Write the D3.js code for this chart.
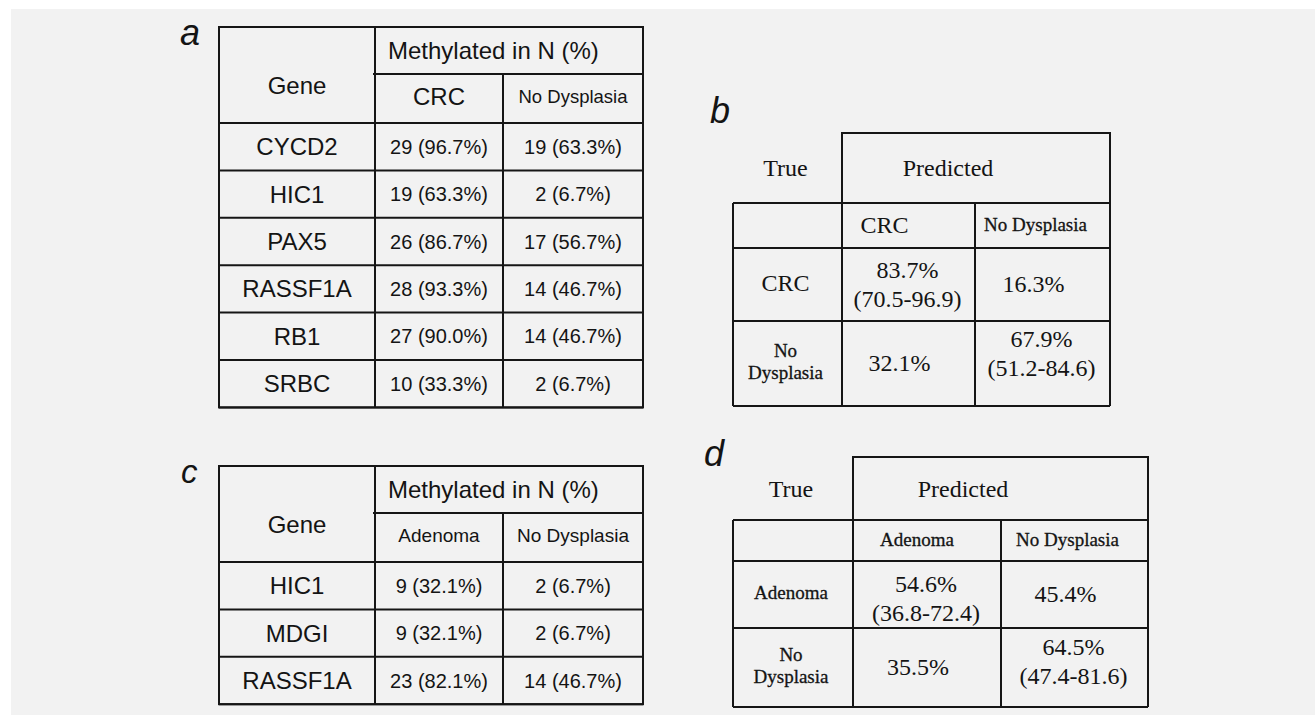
<!DOCTYPE html>
<html lang="en">
<head>
    <meta charset="UTF-8">
    <script src="https://cdn.jsdelivr.net/npm/d3@7"></script>
    <title>Methylation tables</title>
    <style>
        body {
            margin: 0;
            background: #fff;
        }

        .sans {
            font-family: 'Liberation Sans', Arial, sans-serif;
            fill: #141414;
        }

        .serif {
            font-family: 'Liberation Serif', 'Times New Roman', serif;
            fill: #141414;
        }

        /* the small serif labels look heavier in the scan */
        .heavy {
            stroke: #141414;
            stroke-width: 0.3;
        }

        .grid {
            stroke: #161616;
            stroke-width: 2;
            fill: none;
        }
    </style>
</head>

<body>
<svg id="fig"></svg>

<script>
    // Panel a - genes methylated in CRC vs no dysplasia
    const genesA = ["CYCD2", "HIC1", "PAX5", "RASSF1A", "RB1", "SRBC"];
    const crcCountA = [29, 19, 26, 28, 27, 10];
    const crcPctA = [96.7, 63.3, 86.7, 93.3, 90.0, 33.3];
    const noDysCountA = [19, 2, 17, 14, 14, 2];
    const noDysPctA = [63.3, 6.7, 56.7, 46.7, 46.7, 6.7];

    // Panel c - genes methylated in adenoma vs no dysplasia
    const genesC = ["HIC1", "MDGI", "RASSF1A"];
    const adenomaCountC = [9, 9, 23];
    const adenomaPctC = [32.1, 32.1, 82.1];
    const noDysCountC = [2, 2, 14];
    const noDysPctC = [6.7, 6.7, 46.7];

    // Panel b - classification CRC vs no dysplasia (rows = true, cols = predicted)
    const classesB = ["CRC", "No Dysplasia"];
    const predB = [[83.7, 16.3], [32.1, 67.9]];
    const ciB = [[[70.5, 96.9], null], [null, [51.2, 84.6]]];

    // Panel d - classification adenoma vs no dysplasia
    const classesD = ["Adenoma", "No Dysplasia"];
    const predD = [[54.6, 45.4], [35.5, 64.5]];
    const ciD = [[[36.8, 72.4], null], [null, [47.4, 81.6]]];

    const W = 1315, H = 715;

    const svg = d3.select("#fig")
        .attr("width", W)
        .attr("height", H);

    // grey figure background (white margin top/left like the scan)
    svg.append("rect")
        .attr("x", 11).attr("y", 9)
        .attr("width", W - 11).attr("height", H - 9)
        .attr("fill", "#f2f2f2");

    function panelLabel(txt, x, y, size) {
        svg.append("text")
            .attr("class", "sans")
            .attr("x", x).attr("y", y)
            .attr("font-size", size)
            .attr("font-style", "italic")
            .text(txt);
    }

    function hline(g, x1, x2, y) {
        g.append("line").attr("class", "grid")
            .attr("x1", x1).attr("x2", x2).attr("y1", y).attr("y2", y);
    }

    function vline(g, x, y1, y2) {
        g.append("line").attr("class", "grid")
            .attr("x1", x).attr("x2", x).attr("y1", y1).attr("y2", y2);
    }

    /*----------------- [Methylation tables a / c] -----------------*/
    function drawMethylTable(opt) {
        const g = svg.append("g");
        const xEdge = d3.scaleOrdinal().domain(["gene", "g1", "g2", "end"]).range([219, 375, 503, 643]);
        const cx = k => (xEdge(k) + xEdge(k === "gene" ? "g1" : k === "g1" ? "g2" : "end")) / 2;

        const mid = opt.top + 47;
        const hb = opt.top + 96;
        const y = d3.scaleBand().domain(opt.genes).range([hb, hb + opt.genes.length * 47.4]);
        const bottom = y.range()[1];

        g.append("rect").attr("class", "grid")
            .attr("x", xEdge("gene")).attr("y", opt.top)
            .attr("width", xEdge("end") - xEdge("gene"))
            .attr("height", bottom - opt.top);
        vline(g, xEdge("g1"), opt.top, bottom);
        vline(g, xEdge("g2"), mid, bottom);
        hline(g, xEdge("g1") - 2, xEdge("end"), mid);
        hline(g, xEdge("gene"), xEdge("end"), hb);
        opt.genes.forEach(d => hline(g, xEdge("gene"), xEdge("end"), y(d) + y.bandwidth()));

        g.append("text").attr("class", "sans")
            .attr("x", cx("gene")).attr("y", opt.top + 58)
            .attr("text-anchor", "middle").attr("dominant-baseline", "central")
            .attr("font-size", 24).text("Gene");

        g.append("text").attr("class", "sans")
            .attr("x", xEdge("g1") + 13).attr("y", opt.top + 23)
            .attr("dominant-baseline", "central")
            .attr("font-size", 24).text("Methylated in N (%)");

        ["g1", "g2"].forEach((k, i) => {
            g.append("text").attr("class", "sans")
                .attr("x", cx(k)).attr("y", mid + 22)
                .attr("text-anchor", "middle").attr("dominant-baseline", "central")
                .attr("font-size", opt.groupSize[i]).text(opt.groups[i]);
        });

        opt.genes.forEach((gene, r) => {
            const yc = y(gene) + y.bandwidth() / 2;
            g.append("text").attr("class", "sans")
                .attr("x", cx("gene")).attr("y", yc)
                .attr("text-anchor", "middle").attr("dominant-baseline", "central")
                .attr("font-size", 24).text(gene);
            ["g1", "g2"].forEach((k, i) => {
                g.append("text").attr("class", "sans")
                    .attr("x", cx(k)).attr("y", yc)
                    .attr("text-anchor", "middle").attr("dominant-baseline", "central")
                    .attr("font-size", 20)
                    .text(`${opt.counts[i][r]} (${opt.pcts[i][r].toFixed(1)}%)`);
            });
        });
    }

    /*----------------- [Confusion tables b / d] -----------------*/
    function drawConfusion(opt) {
        const g = svg.append("g");
        const c = opt.cols;   // 4 x-edges
        const rEdge = opt.rows; // 4 y-edges (sub header, row 1, row 2)
        const keys = ["sub"].concat(opt.classes);
        const rowTop = d3.scaleOrdinal().domain(keys).range(rEdge.slice(0, 3));
        const rowBot = d3.scaleOrdinal().domain(keys).range(rEdge.slice(1, 4));
        const rowMid = k => (rowTop(k) + rowBot(k)) / 2;
        const colMid = i => (c[i] + c[i + 1]) / 2;
        const cls = size => size < 22 ? "serif heavy" : "serif";

        // predicted header box
        g.append("rect").attr("class", "grid")
            .attr("x", c[1]).attr("y", opt.top)
            .attr("width", c[3] - c[1]).attr("height", rEdge[0] - opt.top);
        rEdge.forEach(yy => hline(g, c[0], c[3], yy));
        [0, 1, 2, 3].forEach(i => vline(g, c[i], rEdge[0], rEdge[3]));

        const hy = (opt.top + rEdge[0]) / 2;
        g.append("text").attr("class", "serif")
            .attr("x", colMid(0) - 2).attr("y", hy)
            .attr("text-anchor", "middle").attr("dominant-baseline", "central")
            .attr("font-size", 24).text("True");
        g.append("text").attr("class", "serif")
            .attr("x", c[1] + opt.predDx).attr("y", hy)
            .attr("text-anchor", "middle").attr("dominant-baseline", "central")
            .attr("font-size", 24).text("Predicted");

        // predicted class labels
        opt.classes.forEach((cl, j) => {
            g.append("text").attr("class", cls(opt.labelSize[j]))
                .attr("x", colMid(j + 1) - opt.subDx[j]).attr("y", rowMid("sub") - 1)
                .attr("text-anchor", "middle").attr("dominant-baseline", "central")
                .attr("font-size", opt.labelSize[j]).text(cl);
        });

        opt.classes.forEach((cl, i) => {
            const ym = rowMid(cl);
            const words = cl.split(" ");
            const t = g.append("text").attr("class", cls(opt.labelSize[i]))
                .attr("text-anchor", "middle")
                .attr("font-size", opt.labelSize[i]);
            words.forEach((w, k) => {
                t.append("tspan")
                    .attr("x", colMid(0) - 2)
                    .attr("y", ym - 2 + (k - (words.length - 1) / 2) * 22)
                    .attr("dominant-baseline", "central")
                    .text(w);
            });

            opt.pct[i].forEach((v, j) => {
                const ci = opt.ci[i][j];
                const xx = colMid(j + 1) - (ci ? 1 : 9);
                const tt = g.append("text").attr("class", "serif")
                    .attr("text-anchor", "middle")
                    .attr("font-size", 24);
                if (ci) {
                    const yc = ym + opt.ciShift[i];
                    tt.append("tspan").attr("x", xx).attr("y", yc - 14.5)
                        .attr("dominant-baseline", "central").text(`${v.toFixed(1)}%`);
                    tt.append("tspan").attr("x", xx).attr("y", yc + 14.5)
                        .attr("dominant-baseline", "central")
                        .text(`(${ci[0].toFixed(1)}-${ci[1].toFixed(1)})`);
                } else {
                    tt.append("tspan").attr("x", xx).attr("y", ym - 1)
                        .attr("dominant-baseline", "central").text(`${v.toFixed(1)}%`);
                }
            });
        });
    }

    drawMethylTable({
        top: 27, genes: genesA,
        groups: ["CRC", "No Dysplasia"], groupSize: [24, 18.5],
        counts: [crcCountA, noDysCountA], pcts: [crcPctA, noDysPctA]
    });

    drawMethylTable({
        top: 466, genes: genesC,
        groups: ["Adenoma", "No Dysplasia"], groupSize: [19, 19],
        counts: [adenomaCountC, noDysCountC], pcts: [adenomaPctC, noDysPctC]
    });

    drawConfusion({
        top: 133, cols: [733, 842, 975, 1110], rows: [203, 248, 321, 406],
        classes: classesB, pct: predB, ci: ciB,
        labelSize: [24, 19], predDx: 106, subDx: [24, 7], ciShift: [0, -10]
    });

    drawConfusion({
        top: 457, cols: [733, 853, 1001, 1148], rows: [520, 561, 628, 707],
        classes: classesD, pct: predD, ci: ciD,
        labelSize: [19, 19], predDx: 110, subDx: [10, 7], ciShift: [4, -6]
    });

    panelLabel("a", 180, 45, 36);
    panelLabel("b", 710, 123, 36);
    panelLabel("c", 181, 483, 33);
    panelLabel("d", 704, 466, 36);
</script>
</body>
</html>
